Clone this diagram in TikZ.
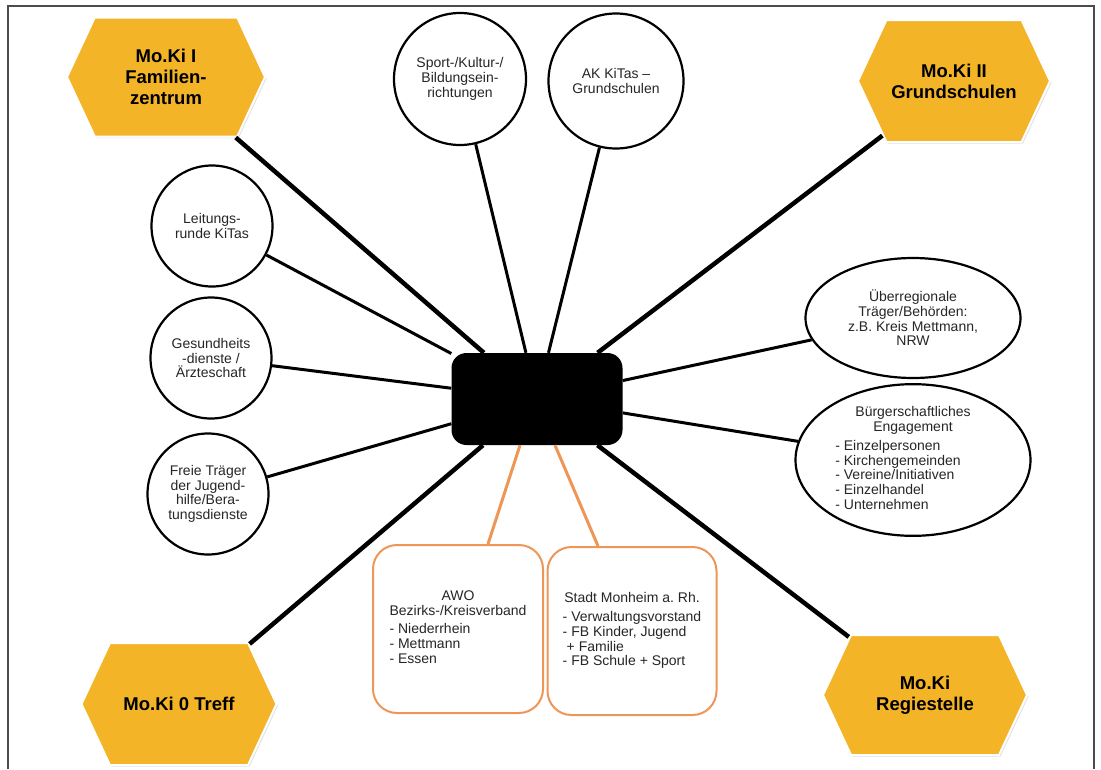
\documentclass[tikz,border=0pt]{standalone}
\usepackage{fontspec}
\setmainfont{Liberation Sans}
\usetikzlibrary{shapes.geometric, shapes.symbols, shadows}

\definecolor{mokigelb}{RGB}{244,180,40}
\definecolor{awoorange}{RGB}{238,150,85}

\frenchspacing

\begin{document}
\begin{tikzpicture}[
    x=1pt, y=-1pt,
    every node/.style={font=\fontsize{14}{14.7}\selectfont, text=black!85, align=center},
    hexa_node/.style={signal, signal to=west and east, signal pointer angle=130, fill=mokigelb, draw=white, line width=2pt, inner sep=0pt, text=black, font=\fontsize{18.5}{21}\selectfont\bfseries, drop shadow={shadow xshift=1.5pt, shadow yshift=-1.5pt, opacity=0.25}},
    circle_node/.style={circle, draw=black, line width=2.2pt, fill=white, inner sep=0pt, minimum size=121},
    ellipse_node/.style={ellipse, draw=black, line width=2.2pt, fill=white, inner sep=0pt},
    partner_node/.style={rectangle, rounded corners=24pt, draw=awoorange, line width=2pt, fill=white, minimum width=170, minimum height=168},
    edge/.style={line width=3pt, black},
    main_edge/.style={line width=4.5pt, black},
    partner_edge/.style={line width=3pt, awoorange}
]
\useasboundingbox (0,0) rectangle (1101,769);

% Rahmen
\draw[gray!60!black, line width=1.5pt] (8,769) -- (8,6) -- (1094,6) -- (1094,769);

% Mitte
\node[fill=black, rounded corners=15pt, minimum width=171, minimum height=92] (Zentrum) at (537,399) {};

% Mo.Ki Bausteine
\node[hexa_node, minimum width=198, minimum height=119] (MoKiI) at (166,77) {Mo.Ki I\\Familien-\\zentrum};
\node[hexa_node, minimum width=192, minimum height=122] (MoKiII) at (954,81) {Mo.Ki II\\Grundschulen};
\node[hexa_node, minimum width=195, minimum height=122] (MoKi0) at (179,704) {Mo.Ki 0 Treff};
\node[hexa_node, minimum width=204, minimum height=120] (Regie) at (925,695) {Mo.Ki\\Regiestelle};

% Kooperationspartner
\node[circle_node, minimum size=132] (Sport) at (460,79) {Sport-/Kultur-/\\Bildungsein-\\richtungen};
\node[circle_node, minimum size=135] (AK) at (616,81) {AK KiTas –\\Grundschulen};
\node[circle_node] (Leitung) at (212,226) {Leitungs-\\runde KiTas};
\node[circle_node] (Gesund) at (211,358) {Gesundheits\\-dienste /\\Ärzteschaft};
\node[circle_node] (Freie) at (208,494) {Freie Träger\\der Jugend-\\hilfe/Bera-\\tungsdienste};
\node[ellipse_node, minimum width=215, minimum height=120] (Ueber) at (913,318) {Überregionale\\Träger/Behörden:\\z.B. Kreis Mettmann,\\NRW};
\node[ellipse_node, minimum width=235, minimum height=145] (Buerger) at (913,460) {Bürgerschaftliches\\Engagement\\[5pt]\begin{tabular}{@{}l@{}}- Einzelpersonen\\- Kirchengemeinden\\- Vereine/Initiativen\\- Einzelhandel\\- Unternehmen\end{tabular}\hspace*{30pt}};

% Traeger
\node[partner_node] (AWO) at (458,629) {\begin{tabular}{@{}l@{}}\multicolumn{1}{@{}c@{}}{AWO}\\\multicolumn{1}{@{}c@{}}{Bezirks-/Kreisverband}\\[4pt]- Niederrhein\\- Mettmann\\- Essen\end{tabular}};
\node[partner_node, minimum width=169] (Stadt) at (632,631) {\begin{tabular}{@{}l@{}}\multicolumn{1}{@{}c@{}}{Stadt Monheim a. Rh.}\\[5pt]- Verwaltungsvorstand\\- FB Kinder, Jugend\\\hspace{4pt}+ Familie\\- FB Schule + Sport\end{tabular}};

% Verbindungen
\draw[main_edge] (MoKiI) -- (Zentrum);
\draw[main_edge] (MoKiII) -- (Zentrum);
\draw[main_edge] (MoKi0) -- (Zentrum);
\draw[main_edge] (Regie) -- (Zentrum);

\draw[edge] (Sport) -- (Zentrum);
\draw[edge] (AK) -- (Zentrum);
\draw[edge] (Leitung) -- (Zentrum);
\draw[edge] (Gesund) -- (Zentrum);
\draw[edge] (Freie) -- (Zentrum);
\draw[edge] (Ueber) -- (Zentrum);
\draw[edge] (Buerger) -- (Zentrum);

\draw[partner_edge] (Zentrum.south -| 520,0) -- (AWO.north -| 488,0);
\draw[partner_edge] (Zentrum.south -| 555,0) -- (Stadt.north -| 598,0);

\end{tikzpicture}
\end{document}
